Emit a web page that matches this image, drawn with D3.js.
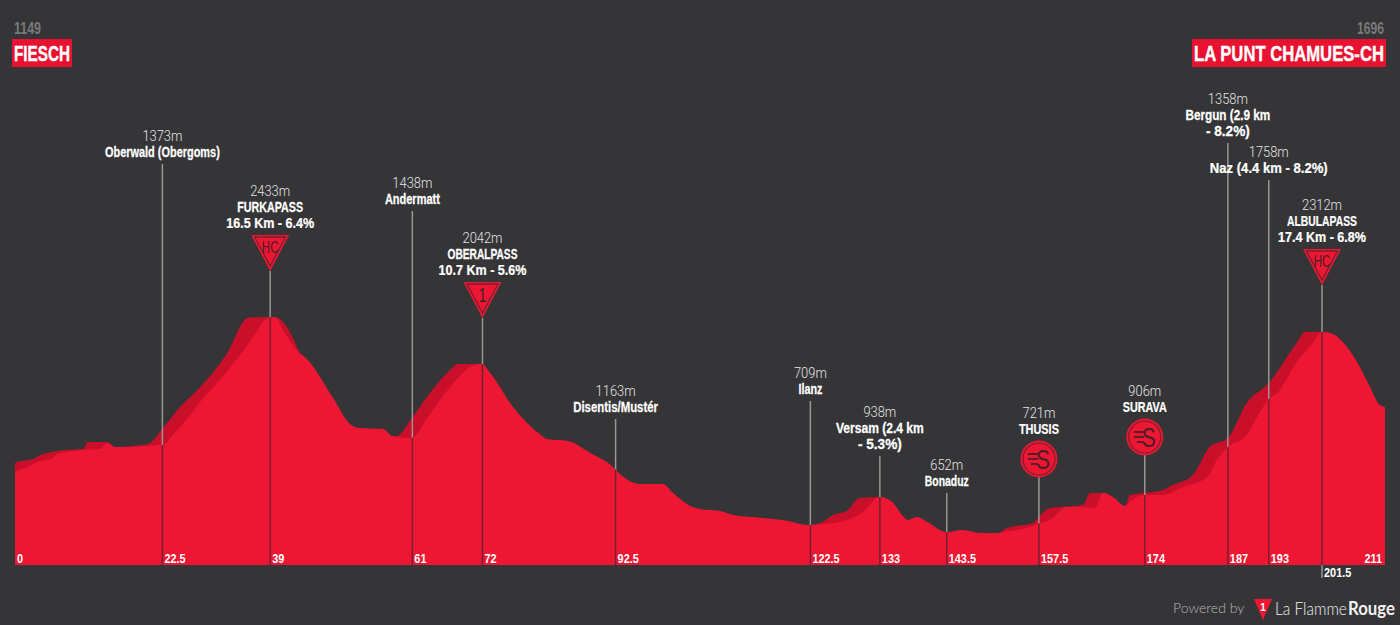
<!DOCTYPE html>
<html>
<head>
<meta charset="utf-8">
<script src="https://cdn.jsdelivr.net/npm/d3@7"></script>
<style>
  html, body { margin: 0; padding: 0; background: #353537; }
  svg { display: block; }
  .name { font-family: "Liberation Sans", sans-serif; font-weight: 700; font-size: 14.5px; fill: #fff; stroke: #fff; stroke-width: 0.25px; text-anchor: middle; }
  .elev { font-family: Roboto, sans-serif; font-weight: 300; font-size: 15px; fill: #e4e4e4; text-anchor: middle; }
  .km { font-family: "Liberation Sans", sans-serif; font-weight: 700; font-size: 13px; fill: #fff; }
</style>
</head>
<body>
<script>
// road profile, front face
var profileKm = [0, 1.8, 3.9, 5.7, 6.2, 8, 10.5, 13.1, 14.2, 15.4, 18.2, 20.3, 22.8, 24.3, 27, 28.5, 31.1, 34.3, 36.7, 38.2, 39.3, 40, 41.3, 43.1, 45.1, 49, 51.6, 53.1, 56.7, 58.1, 61.1, 63.5, 67, 70.1, 71.9, 73.2, 76.7, 81.2, 81.9, 85.2, 88.6, 92.1, 92.7, 96.3, 99.8, 101.2, 104, 105.5, 108.6, 110.6, 115.2, 119.8, 120.9, 122.4, 126, 128.1, 130.6, 133.2, 135.1, 136.9, 137.5, 138.9, 140.5, 143.5, 146, 148.6, 151.2, 153.2, 156.8, 157.9, 159.4, 162, 164.5, 166.3, 167.6, 169.1, 171, 171.7, 173.9, 176.8, 179.9, 183.6, 185.1, 186.8, 189.7, 191.3, 193.1, 194.4, 197.4, 199.9, 201.3, 203, 204.5, 206.7, 208.7, 210.2, 211];
var profileElev = [1151, 1192, 1242, 1258, 1291, 1316, 1333, 1341, 1391, 1358, 1358, 1366, 1374, 1457, 1622, 1730, 1887, 2094, 2268, 2392, 2434, 2434, 2326, 2177, 2078, 1763, 1548, 1515, 1507, 1449, 1432, 1598, 1854, 2020, 2045, 1970, 1689, 1449, 1424, 1407, 1308, 1192, 1159, 1051, 1051, 985, 869, 844, 828, 795, 770, 737, 720, 712, 728, 753, 820, 944, 902, 778, 753, 778, 737, 654, 671, 646, 646, 662, 704, 728, 753, 861, 861, 853, 977, 944, 869, 902, 960, 960, 1026, 1109, 1250, 1358, 1457, 1606, 1755, 1805, 2061, 2219, 2310, 2293, 2227, 2061, 1854, 1705, 1689];

// darker back face, only shows on the climbs
var shadeKm = [0, 0.3, 2.8, 3.9, 5.7, 8, 10.5, 11.2, 14.2, 15.4, 18.2, 20.5, 22.8, 25.7, 27, 32.7, 35.9, 39.3, 40, 50, 58.8, 61.1, 63.9, 67, 68.2, 71.9, 75, 100, 112, 122.4, 124.4, 126, 128.1, 130.1, 133.2, 134, 136, 140, 143.5, 151.2, 152.8, 156.8, 157.9, 159.4, 161, 164.5, 165.6, 167.6, 171, 171.7, 173.9, 176.8, 178.3, 181.4, 184, 186.8, 189.7, 193.1, 197.4, 198.7, 201.3, 211];
var shadeElev = [1225, 1233, 1258, 1291, 1316, 1333, 1341, 1399, 1399, 1358, 1366, 1382, 1515, 1705, 1771, 2136, 2426, 2434, 2434, 1500, 1449, 1598, 1805, 1995, 2045, 2045, 1500, 900, 700, 712, 737, 795, 828, 935, 944, 850, 700, 700, 640, 640, 687, 728, 795, 853, 861, 877, 977, 977, 869, 960, 977, 1002, 1043, 1126, 1358, 1432, 1722, 1887, 2219, 2310, 2310, 1500];

// passing points
var markerKm = [22.7, 39.3, 61.2, 72, 92.5, 122.5, 133.2, 143.5, 157.7, 174, 186.8, 193.1, 201.3];
var markerElev = ["1373m", "2433m", "1438m", "2042m", "1163m", "709m", "938m", "652m", "721m", "906m", "1358m", "1758m", "2312m"];
var markerLines = [
  ["Oberwald (Obergoms)"],
  ["FURKAPASS", "16.5 Km - 6.4%"],
  ["Andermatt"],
  ["OBERALPASS", "10.7 Km - 5.6%"],
  ["Disentis/Mustér"],
  ["Ilanz"],
  ["Versam (2.4 km", "- 5.3%)"],
  ["Bonaduz"],
  ["THUSIS"],
  ["SURAVA"],
  ["Bergun (2.9 km", "- 8.2%)"],
  ["Naz (4.4 km - 8.2%)"],
  ["ALBULAPASS", "17.4 Km - 6.8%"]
];
var markerIcon = ["", "HC", "", "1", "", "", "", "", "sprint", "sprint", "", "", "HC"];

// distance labels along the foot
var tickKm = [0, 22.7, 39.3, 61.2, 72, 92.5, 122.5, 133.2, 143.5, 157.7, 174, 186.8, 193.1, 201.3, 211];
var tickLabels = ["0", "22.5", "39", "61", "72", "92.5", "122.5", "133", "143.5", "157.5", "174", "187", "193", "201.5", "211"];

var startName = "FIESCH", startElev = "1149";
var finishName = "LA PUNT CHAMUES-CH", finishElev = "1696";

// layout
var width = 1400, height = 625;
var footY = 565;
var labelTops = [128, 183, 175, 230, 383, 365, 404, 457, 405, 383, 91, 144, 197];
// drawn width of each name line, the source font is a condensed one
var lineWidths = [[115], [66, 88], [55], [70, 88], [85], [24], [88, 44], [44], [40], [44], [85, 44], [118], [70, 88]];
var iconH = 36;
var red = "#ee1733", shade = "#c90f29", inner = "#76202f", stem = "#979797", iconInk = "#4a1d27";

var x = d3.scaleLinear().domain([0, 211]).range([15, 1385]);
var y = d3.scaleLinear().domain([381, 2433]).range([footY, 317]);

var area = d3.area()
    .curve(d3.curveMonotoneX)
    .x(function(d) { return x(d[0]); })
    .y0(footY)
    .y1(function(d) { return y(d[1]); });

// squeeze a text to a width, keeps its x as the anchor
function fit(sel, w) {
  var k = w / sel.node().getComputedTextLength();
  var x0 = +sel.attr("x") || 0;
  var y0 = +sel.attr("y") || 0;
  sel.attr("x", 0).attr("y", 0)
      .attr("transform", "translate(" + x0 + "," + y0 + ") scale(" + k + ",1)");
  return sel;
}
function fitBy(sel, k) {
  return fit(sel, sel.node().getComputedTextLength() * k);
}

var svg = d3.select("body").append("svg")
    .attr("width", width)
    .attr("height", height);

svg.append("rect").attr("width", width).attr("height", height).attr("fill", "#353537");

svg.append("path")
    .attr("d", area(d3.zip(shadeKm, shadeElev)))
    .attr("fill", shade);

// stems first, the front face hides their lower part
var stems = svg.append("g");
markerKm.forEach(function(km, i) {
  var top = labelTops[i] + 20 + markerLines[i].length * 16;
  if (markerIcon[i] == "sprint") top += 34;
  else if (markerIcon[i]) top += iconH;
  stems.append("line")
      .attr("x1", x(km)).attr("x2", x(km))
      .attr("y1", top).attr("y2", footY)
      .attr("stroke", stem).attr("stroke-width", 1.5);
});

svg.append("path")
    .attr("id", "front")
    .attr("d", area(d3.zip(profileKm, profileElev)))
    .attr("fill", red);

svg.append("clipPath").attr("id", "frontClip")
  .append("path").attr("d", area(d3.zip(profileKm, profileElev)));

svg.append("g").attr("clip-path", "url(#frontClip)")
  .selectAll("line").data(markerKm).enter().append("line")
    .attr("x1", function(d) { return x(d); })
    .attr("x2", function(d) { return x(d); })
    .attr("y1", 300).attr("y2", footY)
    .attr("stroke", inner).attr("stroke-width", 1.5);

// short stem under the foot for 201.5
svg.append("line")
    .attr("x1", x(201.3)).attr("x2", x(201.3))
    .attr("y1", footY).attr("y2", footY + 13)
    .attr("stroke", stem).attr("stroke-width", 1.5);

function drawClimb(g, top, label) {
  g.append("path")
      .attr("d", "M-19," + top + "H19L0," + (top + iconH) + "Z")
      .attr("fill", red);
  g.append("path")
      .attr("d", "M-15.5," + (top + 2) + "H15.5L0," + (top + 31) + "Z")
      .attr("fill", "none").attr("stroke", inner).attr("stroke-width", 1.3);
  var t = g.append("text")
      .attr("y", top + (label == "1" ? 20 : 18)).attr("text-anchor", "middle")
      .attr("font-family", "'Liberation Sans', sans-serif")
      .attr("font-size", label == "1" ? 20 : 16)
      .attr("fill", iconInk)
      .text(label);
  fitBy(t, 0.72);
}

function drawSprint(g, cy) {
  g.append("circle").attr("cy", cy).attr("r", 18.5).attr("fill", red);
  g.append("circle").attr("cy", cy).attr("r", 16).attr("fill", "none")
      .attr("stroke", inner).attr("stroke-width", 1.2);
  var s = g.append("text")
      .attr("x", 4).attr("y", cy + 9.5).attr("text-anchor", "middle")
      .attr("font-family", "'Liberation Sans', sans-serif")
      .attr("font-size", 27).attr("fill", iconInk)
      .text("S");
  fit(s, 14);
  [-5, 0, 5].forEach(function(dy, k) {
    g.append("line")
        .attr("x1", -11 + (k == 2 ? 3 : 0)).attr("x2", -1)
        .attr("y1", cy + dy).attr("y2", cy + dy)
        .attr("stroke", iconInk).attr("stroke-width", 1.8);
  });
}

// text above the stems
markerKm.forEach(function(km, i) {
  var g = svg.append("g").attr("transform", "translate(" + x(km) + "," + labelTops[i] + ")");
  fitBy(g.append("text").attr("class", "elev").attr("y", 13).text(markerElev[i]), 0.86);
  markerLines[i].forEach(function(line, j) {
    fit(g.append("text").attr("class", "name").attr("y", 29 + j * 16).text(line), lineWidths[i][j]);
  });
  var base = 29 + (markerLines[i].length - 1) * 16;
  if (markerIcon[i] == "sprint") drawSprint(g, base + 25);
  else if (markerIcon[i]) drawClimb(g, base + 7, markerIcon[i]);
});

// distance labels
svg.selectAll(".km").data(tickKm).enter().append("text")
    .attr("class", "km")
    .attr("x", function(d, i) { return i == tickKm.length - 1 ? x(d) - 3 : x(d) + 2; })
    .attr("y", function(d, i) { return tickLabels[i] == "201.5" ? footY + 12 : footY - 2; })
    .attr("text-anchor", function(d, i) { return i == tickKm.length - 1 ? "end" : "start"; })
    .text(function(d, i) { return tickLabels[i]; })
    .each(function() { fitBy(d3.select(this), 0.84); });

// start and finish plates
function plate(x0, x1, anchor, name, elev) {
  fit(svg.append("text")
      .attr("x", anchor == "start" ? x0 + 2 : x1 - 2).attr("y", 34)
      .attr("text-anchor", anchor)
      .attr("font-family", "'Liberation Sans', sans-serif")
      .attr("font-weight", 700).attr("font-size", 16).attr("fill", "#7a7a7a")
      .text(elev), 27);
  svg.append("rect")
      .attr("x", x0).attr("y", 39)
      .attr("width", x1 - x0).attr("height", 28)
      .attr("fill", "#e8112f");
  fit(svg.append("text")
      .attr("x", (x0 + x1) / 2).attr("y", 60.5)
      .attr("text-anchor", "middle")
      .attr("font-family", "'Liberation Sans', sans-serif")
      .attr("font-weight", 700).attr("font-size", 22)
      .attr("fill", "#fff").attr("stroke", "#fff").attr("stroke-width", 0.4)
      .text(name), x1 - x0 - 4);
}
plate(12, 72, "start", startName, startElev);
plate(1192, 1386, "end", finishName, finishElev);

// footer
svg.append("text")
    .attr("x", 1173).attr("y", 613)
    .attr("font-family", "Lato, sans-serif").attr("font-weight", 300)
    .attr("font-size", 14).attr("fill", "#b5b5b5")
    .text("Powered by");
svg.append("path").attr("d", "M1254,599H1272L1263,620Z").attr("fill", red);
svg.append("text")
    .attr("x", 1263).attr("y", 611).attr("text-anchor", "middle")
    .attr("font-family", "'Liberation Sans', sans-serif").attr("font-weight", 700)
    .attr("font-size", 10).attr("fill", "#fff")
    .text("1");
fit(svg.append("text")
    .attr("x", 1275).attr("y", 615)
    .attr("font-family", "Lato, sans-serif").attr("font-weight", 300)
    .attr("font-size", 18).attr("fill", "#f2f2f2")
    .text("La Flamme"), 72);
fit(svg.append("text")
    .attr("x", 1348).attr("y", 615)
    .attr("font-family", "Lato, sans-serif").attr("font-weight", 700)
    .attr("font-size", 18).attr("fill", "#f2f2f2")
    .text("Rouge"), 47);
</script>
</body>
</html>
